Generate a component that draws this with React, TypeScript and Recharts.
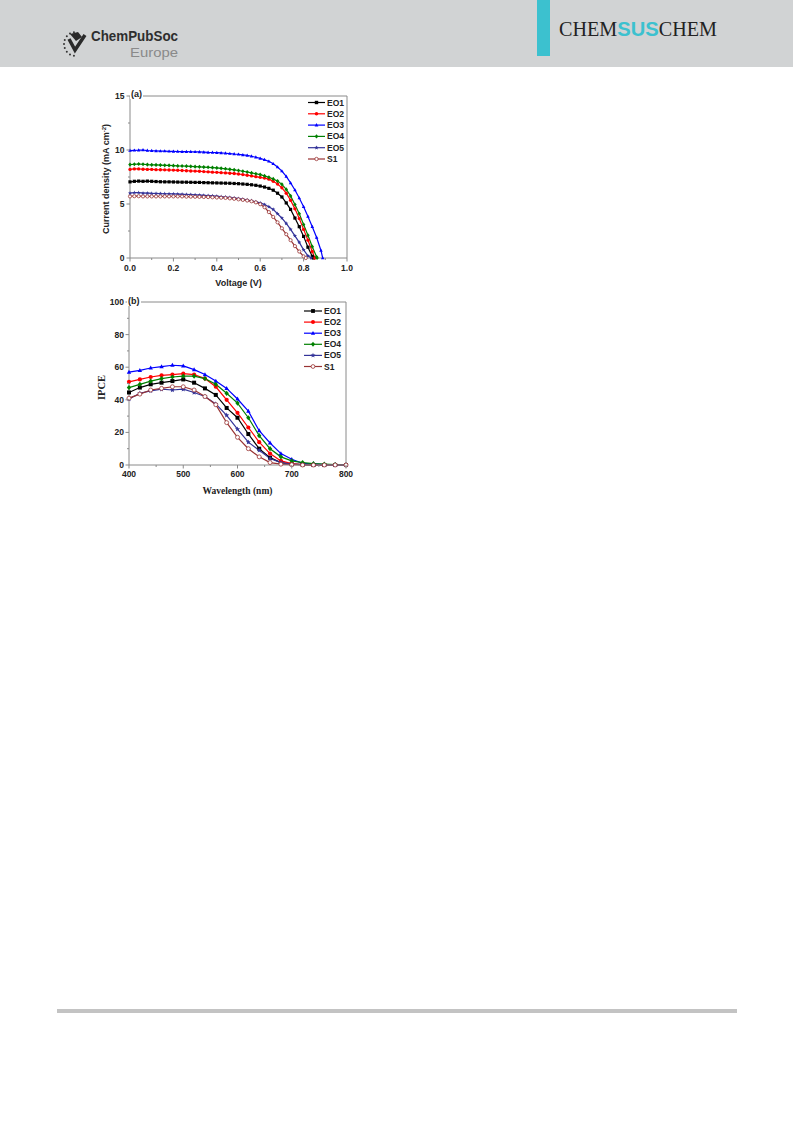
import React from 'react';
import { LineChart, Line, XAxis, YAxis, Legend, ReferenceLine } from 'recharts';

// ---- series meta ----
const SERIES_NAMES = ['EO1', 'EO2', 'EO3', 'EO4', 'EO5', 'S1'];
const SERIES_COLORS = ['#000000', '#ff0000', '#0000ff', '#008000', '#333399', '#993333'];
const SERIES_MARKERS = ['square', 'circle', 'triangle', 'diamond', 'star', 'open'];

// ---- panel (a): J-V curves ----
const JV_VOLTAGE = [
    0, 0.02, 0.04, 0.06, 0.08, 0.1, 0.12, 0.14, 0.16, 0.18, 0.2, 0.22, 0.24, 0.26, 0.28,
    0.3, 0.32, 0.34, 0.36, 0.38, 0.4, 0.42, 0.44, 0.46, 0.48, 0.5, 0.52, 0.54, 0.56, 0.58,
    0.6, 0.62, 0.64, 0.66, 0.68, 0.7, 0.72, 0.74, 0.76, 0.78, 0.8, 0.82, 0.84, 0.86, 0.88,
];
const JV_EO1 = [
    7.05, 7.1, 7.12, 7.1, 7.12, 7.1, 7.08, 7.06, 7.05, 7.05, 7.04, 7.03, 7.02, 7.02, 7.01,
    7.0, 7.0, 6.98, 6.97, 6.96, 6.95, 6.94, 6.93, 6.92, 6.9, 6.88, 6.85, 6.82, 6.78, 6.73,
    6.66, 6.57, 6.45, 6.28, 6.0, 5.65, 5.1, 4.5, 3.7, 2.9, 2.0, 1.0, 0.15,
];
const JV_EO2 = [
    8.2, 8.25, 8.25, 8.22, 8.2, 8.2, 8.18, 8.17, 8.16, 8.15, 8.14, 8.12, 8.1, 8.08, 8.06,
    8.05, 8.03, 8.0, 7.98, 7.95, 7.93, 7.9, 7.88, 7.85, 7.82, 7.78, 7.72, 7.66, 7.6, 7.53,
    7.47, 7.4, 7.3, 7.1, 6.85, 6.5, 6.0, 5.35, 4.55, 3.65, 2.65, 1.65, 0.6,
];
const JV_EO3 = [
    9.95, 9.97, 9.98, 10.0, 9.95, 9.93, 9.92, 9.9, 9.9, 9.88, 9.87, 9.86, 9.85, 9.85, 9.84,
    9.83, 9.82, 9.8, 9.78, 9.77, 9.75, 9.73, 9.7, 9.67, 9.63, 9.6, 9.55, 9.5, 9.42, 9.33,
    9.22, 9.1, 8.95, 8.72, 8.42, 8.05, 7.55, 6.95, 6.3, 5.55, 4.75, 3.85, 2.9, 1.9, 0.7,
];
const JV_EO4 = [
    8.65, 8.68, 8.7, 8.68, 8.65, 8.63, 8.62, 8.6, 8.58, 8.57, 8.55, 8.53, 8.52, 8.5, 8.48,
    8.46, 8.44, 8.42, 8.4, 8.37, 8.34, 8.3, 8.26, 8.21, 8.16, 8.1, 8.03, 7.96, 7.88, 7.8,
    7.72, 7.6, 7.47, 7.32, 7.12, 6.82, 6.35, 5.75, 4.95, 4.1, 3.1, 2.1, 1.05, 0.1,
];
const JV_EO5 = [
    6.0, 6.05, 6.05, 6.0, 6.0, 5.98, 5.97, 5.96, 5.95, 5.94, 5.93, 5.92, 5.9, 5.88, 5.87,
    5.85, 5.83, 5.8, 5.78, 5.75, 5.72, 5.68, 5.65, 5.6, 5.56, 5.5, 5.44, 5.37, 5.3, 5.2,
    5.1, 4.95, 4.75, 4.5, 4.1, 3.7, 3.2, 2.65, 2.05, 1.45, 0.75, 0.2,
];
const JV_S1 = [
    5.7, 5.72, 5.72, 5.7, 5.7, 5.7, 5.7, 5.7, 5.7, 5.7, 5.7, 5.7, 5.7, 5.68, 5.68,
    5.67, 5.66, 5.65, 5.64, 5.62, 5.6, 5.58, 5.56, 5.52, 5.48, 5.43, 5.38, 5.32, 5.25, 5.15,
    4.98, 4.7, 4.25, 3.8, 3.3, 2.75, 2.2, 1.65, 1.1, 0.6, 0.15,
];
// open-circuit voltage where each curve reaches zero
const JV_VOC = [0.845, 0.852, 0.888, 0.862, 0.835, 0.81];
const JV_X_TICKS = [0, 0.1, 0.2, 0.3, 0.4, 0.5, 0.6, 0.7, 0.8, 0.9, 1];
const JV_X_MAJOR = [0, 0.2, 0.4, 0.6, 0.8, 1];
const JV_Y_TICKS = [0, 2.5, 5, 7.5, 10, 12.5, 15];
const JV_Y_MAJOR = [0, 5, 10, 15];

// ---- panel (b): IPCE spectra ----
const IPCE_WAVELENGTH = [400, 420, 440, 460, 480, 500, 520, 540, 560, 580, 600, 620, 640, 660, 680, 700, 720, 740, 760, 780, 800];
const IPCE_EO1 = [44.5, 47.5, 49.5, 50.5, 51.5, 52.5, 50.5, 47, 43, 35, 29, 19, 10, 4.5, 1.5, 0.5, 0.2, 0, 0, 0, 0];
const IPCE_EO2 = [51, 52.5, 54, 55, 55.5, 56, 55.5, 53, 48, 40, 32, 23, 14, 7, 2.5, 0.8, 0.3, 0, 0, 0, 0];
const IPCE_EO3 = [57, 58, 59.5, 60.3, 61.2, 60.8, 58.5, 55.5, 51.5, 47, 40.5, 33, 21, 13.5, 7, 3.5, 1, 0.8, 0.3, 0.2, 0];
const IPCE_EO4 = [47.5, 49.5, 51.5, 53, 54, 54.5, 54.5, 53, 49.5, 44, 38, 29, 18, 10, 5, 2.5, 1.5, 0.8, 0.5, 0.3, 0];
const IPCE_EO5 = [40.5, 44, 45.5, 46.5, 46, 46.5, 44.5, 42, 37.5, 30.5, 22, 14, 9, 4, 1.5, 0.5, 0.2, 0, 0, 0, 0];
const IPCE_S1 = [41, 43.5, 46, 47, 48, 48, 46, 42, 37, 26, 17, 10, 5, 1.5, 0.5, 0.2, 0, 0, 0, 0, 0];
const IPCE_X_TICKS = [400, 450, 500, 550, 600, 650, 700, 750, 800];
const IPCE_X_MAJOR = [400, 500, 600, 700, 800];
const IPCE_Y_TICKS = [0, 10, 20, 30, 40, 50, 60, 70, 80, 90, 100];
const IPCE_Y_MAJOR = [0, 20, 40, 60, 80, 100];

const JV_SERIES = [JV_EO1, JV_EO2, JV_EO3, JV_EO4, JV_EO5, JV_S1];
const IPCE_SERIES = [IPCE_EO1, IPCE_EO2, IPCE_EO3, IPCE_EO4, IPCE_EO5, IPCE_S1];

const jvData = JV_SERIES.map((cur, s) => [
    ...cur.map((j, i) => ({ v: JV_VOLTAGE[i], j })),
    { v: JV_VOC[s], j: 0 },
]);

const ipceData = IPCE_WAVELENGTH.map((wl, i) => {
    const row: { [key: string]: number } = { wl };
    SERIES_NAMES.forEach((name, s) => {
        row[name] = IPCE_SERIES[s][i];
    });
    return row;
});

// ---- styling ----
const SANS = '"Liberation Sans", Arial, sans-serif';
const SERIF = '"Liberation Serif", "Times New Roman", serif';
const AXIS_COLOR = '#8a8a8a';
const TEXT_COLOR = '#222';
const TICK_SIZE = 3;
const TICK_MARGIN = 2;

const tickText = { fontFamily: SANS, fontSize: 8.5, fontWeight: 700, fill: TEXT_COLOR };

const Marker: React.FC<any> = ({ cx, cy, shape, color, size }) => {
    if (cx == null || cy == null) return null;
    const h = size / 2;
    switch (shape) {
        case 'square':
            return <rect x={cx - h} y={cy - h} width={size} height={size} fill={color} />;
        case 'circle':
            return <circle cx={cx} cy={cy} r={h * 1.05} fill={color} />;
        case 'triangle':
            return <polygon points={`${cx},${cy - h * 1.2} ${cx + h * 1.1},${cy + h * 0.8} ${cx - h * 1.1},${cy + h * 0.8}`} fill={color} />;
        case 'diamond':
            return <polygon points={`${cx},${cy - h * 1.3} ${cx + h * 1.1},${cy} ${cx},${cy + h * 1.3} ${cx - h * 1.1},${cy}`} fill={color} />;
        case 'star': {
            const pts: string[] = [];
            for (let k = 0; k < 10; k++) {
                const r = k % 2 === 0 ? h * 1.35 : h * 0.6;
                const a = (Math.PI / 5) * k - Math.PI / 2;
                pts.push(`${cx + r * Math.cos(a)},${cy + r * Math.sin(a)}`);
            }
            return <polygon points={pts.join(' ')} fill={color} />;
        }
        default:
            return <circle cx={cx} cy={cy} r={h} fill="#fff" stroke={color} strokeWidth={0.8} />;
    }
};

// bottom axis ticks: long ticks with labels on majors, short minor ticks
const makeBottomTick = (major: number[], fmt: (v: number) => string, gap: number) => (props: any) => {
    const { x, y, payload } = props;
    const axisY = y - TICK_SIZE - TICK_MARGIN;
    const isMajor = major.includes(payload.value);
    return (
        <g>
            <line x1={x} x2={x} y1={axisY} y2={axisY + (isMajor ? 3.5 : 2)} stroke={AXIS_COLOR} />
            {isMajor && (
                <text x={x} y={axisY + gap} textAnchor="middle" style={tickText}>
                    {fmt(payload.value)}
                </text>
            )}
        </g>
    );
};

const makeLeftTick = (major: number[], gap: number) => (props: any) => {
    const { x, y, payload } = props;
    const axisX = x + TICK_SIZE + TICK_MARGIN;
    const isMajor = major.includes(payload.value);
    return (
        <g>
            <line x1={axisX} x2={axisX - (isMajor ? 3.5 : 2)} y1={y} y2={y} stroke={AXIS_COLOR} />
            {isMajor && (
                <text x={axisX - gap} y={y} dy="0.36em" textAnchor="end" style={tickText}>
                    {payload.value}
                </text>
            )}
        </g>
    );
};

const XTitle: React.FC<any> = ({ viewBox, gap, node, font, size }) => {
    if (!viewBox) return null;
    return (
        <text x={viewBox.x + viewBox.width / 2} y={viewBox.y + gap} textAnchor="middle"
            style={{ fontFamily: font, fontSize: size, fontWeight: 700, fill: TEXT_COLOR }}>
            {node}
        </text>
    );
};

const YTitle: React.FC<any> = ({ viewBox, gap, shift, node, font, size }) => {
    if (!viewBox) return null;
    const cx = viewBox.x + viewBox.width - gap;
    const cy = viewBox.y + viewBox.height / 2 + (shift || 0);
    return (
        <text transform={`translate(${cx},${cy}) rotate(-90)`} textAnchor="middle" dy="0.35em"
            style={{ fontFamily: font, fontSize: size, fontWeight: 700, fill: TEXT_COLOR }}>
            {node}
        </text>
    );
};

// legend drawn inside the plot, upper right
const makeLegend = (x0: number, y0: number, dy: number, len: number, w: number, h: number, markerSize: number) => (props: any) => (
    <svg width={w} height={h} style={{ position: 'absolute', left: 0, top: 0, overflow: 'visible' }}>
        {(props.payload || []).map((entry: any, i: number) => {
            const s = SERIES_NAMES.indexOf(entry.value);
            const cy = y0 + i * dy;
            return (
                <g key={entry.value}>
                    <line x1={x0} x2={x0 + len} y1={cy} y2={cy} stroke={SERIES_COLORS[s]} strokeWidth={1.2} />
                    <Marker cx={x0 + len / 2} cy={cy} shape={SERIES_MARKERS[s]} color={SERIES_COLORS[s]} size={markerSize} />
                    <text x={x0 + len + 2} y={cy} dy="0.36em" style={tickText}>{entry.value}</text>
                </g>
            );
        })}
    </svg>
);

const PanelLabel: React.FC<{ left: number; top: number; text: string }> = ({ left, top, text }) => (
    <div style={{
        position: 'absolute', left, top, fontFamily: SANS, fontSize: 9, fontWeight: 700,
        color: TEXT_COLOR, background: '#fff', lineHeight: '9px', padding: '0 1px',
    }}>{text}</div>
);

const JVChart: React.FC = () => (
    <div style={{ position: 'relative', width: 280, height: 205 }}>
        <LineChart width={280} height={205} margin={{ top: 10, right: 13, left: 10, bottom: 0 }}>
            <XAxis
                type="number" dataKey="v" domain={[0, 1]} ticks={JV_X_TICKS} interval={0} height={33}
                stroke={AXIS_COLOR} tickSize={TICK_SIZE} tickMargin={TICK_MARGIN} tickLine={false}
                tick={makeBottomTick(JV_X_MAJOR, (v) => v.toFixed(1), 13)}
                label={<XTitle gap={27.5} node="Voltage (V)" font={SANS} size={9} />}
            />
            <YAxis
                type="number" domain={[0, 15]} ticks={JV_Y_TICKS} interval={0} width={40}
                stroke={AXIS_COLOR} tickSize={TICK_SIZE} tickMargin={TICK_MARGIN} tickLine={false}
                tick={makeLeftTick(JV_Y_MAJOR, 5.5)}
                label={
                    <YTitle gap={24} shift={2} font={SANS} size={9}
                        node={<>Current density (mA cm<tspan dy={-3} fontSize={6}>-2</tspan><tspan dy={3}>)</tspan></>} />
                }
            />
            <ReferenceLine y={15} stroke={AXIS_COLOR} ifOverflow="visible" />
            <ReferenceLine x={1} stroke={AXIS_COLOR} ifOverflow="visible" />
            {SERIES_NAMES.map((name, s) => (
                <Line
                    key={name}
                    data={jvData[s]}
                    dataKey="j"
                    name={name}
                    type="linear"
                    stroke={SERIES_COLORS[s]}
                    strokeWidth={1.2}
                    activeDot={false}
                    isAnimationActive={false}
                    dot={(p: any) => (
                        <Marker key={`${name}-${p.index}`} cx={p.cx} cy={p.cy} shape={SERIES_MARKERS[s]} color={SERIES_COLORS[s]} size={3.2} />
                    )}
                />
            ))}
            <Legend
                layout="vertical" align="center" verticalAlign="middle"
                wrapperStyle={{ left: 0, top: 0, width: 280, height: 205 }}
                content={makeLegend(228, 16.5, 11.3, 17, 280, 205, 3.4)}
            />
        </LineChart>
        <PanelLabel left={50} top={4} text="(a)" />
    </div>
);

const IPCEChart: React.FC = () => (
    <div style={{ position: 'relative', width: 280, height: 206 }}>
        <LineChart width={280} height={206} data={ipceData} margin={{ top: 10, right: 14, left: 9, bottom: 0 }}>
            <XAxis
                type="number" dataKey="wl" domain={[400, 800]} ticks={IPCE_X_TICKS} interval={0} height={33}
                stroke={AXIS_COLOR} tickSize={TICK_SIZE} tickMargin={TICK_MARGIN} tickLine={false}
                tick={makeBottomTick(IPCE_X_MAJOR, (v) => String(v), 11.5)}
                label={<XTitle gap={29} node="Wavelength (nm)" font={SERIF} size={9.5} />}
            />
            <YAxis
                type="number" domain={[0, 100]} ticks={IPCE_Y_TICKS} interval={0} width={40}
                stroke={AXIS_COLOR} tickSize={TICK_SIZE} tickMargin={TICK_MARGIN} tickLine={false}
                tick={makeLeftTick(IPCE_Y_MAJOR, 5)}
                label={<YTitle gap={27.5} shift={4} node="IPCE" font={SERIF} size={10.5} />}
            />
            <ReferenceLine y={100} stroke={AXIS_COLOR} ifOverflow="visible" />
            <ReferenceLine x={800} stroke={AXIS_COLOR} ifOverflow="visible" />
            {SERIES_NAMES.map((name, s) => (
                <Line
                    key={name}
                    dataKey={name}
                    name={name}
                    type="linear"
                    stroke={SERIES_COLORS[s]}
                    strokeWidth={1.2}
                    activeDot={false}
                    isAnimationActive={false}
                    dot={(p: any) => (
                        <Marker key={`${name}-${p.index}`} cx={p.cx} cy={p.cy} shape={SERIES_MARKERS[s]} color={SERIES_COLORS[s]} size={4} />
                    )}
                />
            ))}
            <Legend
                layout="vertical" align="center" verticalAlign="middle"
                wrapperStyle={{ left: 0, top: 0, width: 280, height: 206 }}
                content={makeLegend(224, 19, 11.1, 18, 280, 206, 3.8)}
            />
        </LineChart>
        <PanelLabel left={47} top={5} text="(b)" />
    </div>
);

// journal header band
const Header: React.FC = () => (
    <svg width={793} height={67} style={{ position: 'absolute', left: 0, top: 0 }}>
        <rect x={0} y={0} width={793} height={67} fill="#d1d3d4" />
        <g transform="translate(76,44)">
            {Array.from({ length: 9 }).map((_, i) => {
                const a = ((100 + i * 20) * Math.PI) / 180;
                return <circle key={i} cx={12 * Math.cos(a)} cy={12 * Math.sin(a)} r={1} fill="#333" />;
            })}
            <path d="M-7,-5 L-1,6 L9,-9" stroke="#2a2a2a" strokeWidth={3.5} fill="none" />
            <path d="M-6,-10 L2,-12 L6,-7 L0,-3 Z" fill="#2a2a2a" />
        </g>
        <text x={91} y={41} textLength={87} lengthAdjust="spacingAndGlyphs"
            style={{ fontFamily: SANS, fontSize: 14, fontWeight: 700, fill: '#2e2e2e' }}>ChemPubSoc</text>
        <text x={130} y={57} textLength={48} lengthAdjust="spacingAndGlyphs"
            style={{ fontFamily: SANS, fontSize: 13, fill: '#8a8a8a' }}>Europe</text>
        <rect x={537} y={0} width={13} height={56} fill="#3cc1cf" />
        <text x={559} y={36} textLength={158} lengthAdjust="spacingAndGlyphs" style={{ fontFamily: SERIF, fontSize: 20, fill: '#222' }}>
            CHEM<tspan style={{ fontFamily: SANS, fontWeight: 700, fill: '#3cc1cf' }}>SUS</tspan>CHEM
        </text>
    </svg>
);

const App: React.FC = () => (
    <div style={{ position: 'relative', width: 793, height: 1121, background: '#fff', overflow: 'hidden' }}>
        <style>{'body{margin:0}'}</style>
        <Header />
        <div style={{ position: 'absolute', left: 80, top: 86 }}>
            <JVChart />
        </div>
        <div style={{ position: 'absolute', left: 80, top: 292 }}>
            <IPCEChart />
        </div>
        <div style={{ position: 'absolute', left: 57, top: 1009, width: 680, height: 4, background: '#c3c3c3' }} />
    </div>
);

export default App;
